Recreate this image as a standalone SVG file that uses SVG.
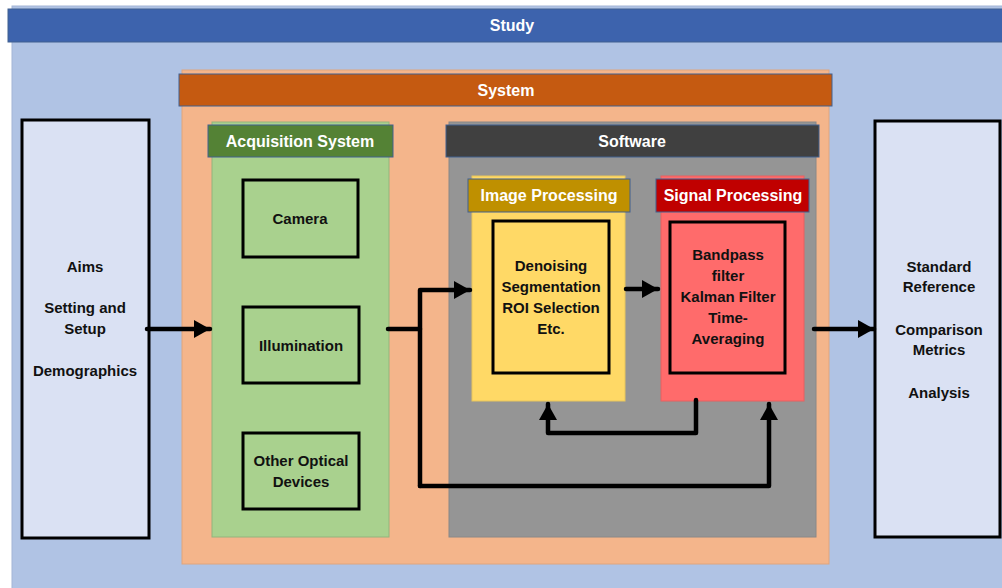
<svg xmlns="http://www.w3.org/2000/svg" width="1002" height="588" viewBox="0 0 1002 588">
  <style>
    text { font-family: "Liberation Sans", Arial, sans-serif; font-weight: bold; text-anchor: middle; }
    .hdr { fill: #ffffff; font-size: 16px; }
    .body { fill: #111111; font-size: 15px; }
    .hbar { stroke: #41618f; stroke-width: 1; }
    .box { stroke: #000000; stroke-width: 3; }
    .wire { fill: none; stroke: #000000; stroke-width: 4.5; stroke-linecap: round; stroke-linejoin: round; }
  </style>
  <defs>
    <marker id="arrow" markerUnits="userSpaceOnUse" markerWidth="18" markerHeight="18" refX="16" refY="9" orient="auto">
      <path d="M0,0 L16,9 L0,18 Z" fill="#000000"/>
    </marker>
  </defs>

  <!-- study background -->
  <g id="study">
    <rect x="12" y="6" width="992" height="584" fill="#b0c3e4" stroke="#a4b6d6" stroke-width="1"/>
    <rect x="8" y="9" width="996" height="33" fill="#3d63ad" class="hbar"/>
    <text class="hdr" x="512" y="31">Study</text>
  </g>

  <!-- system container -->
  <g id="system">
    <rect x="182" y="70" width="647" height="494" fill="#f4b58b" stroke="#e0a57d" stroke-width="1"/>
    <rect x="179" y="74" width="653" height="32" fill="#c55a11" class="hbar"/>
    <text class="hdr" x="506" y="96">System</text>
  </g>

  <!-- acquisition panel -->
  <g id="acquisition">
    <rect x="212" y="122" width="177" height="415" fill="#a9d18e" stroke="#93b47d" stroke-width="1"/>
    <rect x="208" y="125" width="185" height="32" fill="#548235" class="hbar"/>
    <text class="hdr" x="300" y="147">Acquisition System</text>
  </g>

  <g id="camera">
    <rect x="243" y="180" width="115" height="77" fill="#a9d18e" class="box"/>
    <text class="body" x="300" y="224">Camera</text>
  </g>

  <g id="illumination">
    <rect x="243" y="307" width="116" height="76" fill="#a9d18e" class="box"/>
    <text class="body" x="301" y="351">Illumination</text>
  </g>

  <g id="optical">
    <rect x="243" y="433" width="116" height="76" fill="#a9d18e" class="box"/>
    <text class="body" x="301" y="466">Other Optical</text>
    <text class="body" x="301" y="487">Devices</text>
  </g>

  <!-- software panel -->
  <g id="software">
    <rect x="449" y="122" width="367" height="415" fill="#959595" stroke="#888888" stroke-width="1"/>
    <rect x="446" y="125" width="373" height="32" fill="#404040" class="hbar"/>
    <text class="hdr" x="632" y="147">Software</text>
  </g>

  <g id="image-processing">
    <rect x="472" y="176" width="153" height="225" fill="#ffd966" stroke="#e8c55c" stroke-width="1"/>
    <rect x="468" y="179" width="162" height="33" fill="#bf9000" class="hbar"/>
    <text class="hdr" x="549" y="201">Image Processing</text>
    <rect x="493" y="221" width="116" height="152" fill="#ffd966" class="box"/>
    <text class="body" x="551" y="271">Denoising</text>
    <text class="body" x="551" y="292">Segmentation</text>
    <text class="body" x="551" y="313">ROI Selection</text>
    <text class="body" x="551" y="334">Etc.</text>
  </g>

  <g id="signal-processing">
    <rect x="661" y="176" width="143" height="225" fill="#ff6b6b" stroke="#e86060" stroke-width="1"/>
    <rect x="656" y="179" width="153" height="33" fill="#c00000" class="hbar"/>
    <text class="hdr" x="733" y="201">Signal Processing</text>
    <rect x="670" y="222" width="115" height="151" fill="#ff6b6b" class="box"/>
    <text class="body" x="728" y="260">Bandpass</text>
    <text class="body" x="728" y="281">filter</text>
    <text class="body" x="728" y="302">Kalman Filter</text>
    <text class="body" x="728" y="323">Time-</text>
    <text class="body" x="728" y="344">Averaging</text>
  </g>

  <!-- inputs and outputs -->
  <g id="inputs">
    <rect x="22" y="120" width="127" height="418" fill="#dae1f3" class="box"/>
    <text class="body" x="85" y="272">Aims</text>
    <text class="body" x="85" y="313">Setting and</text>
    <text class="body" x="85" y="334">Setup</text>
    <text class="body" x="85" y="376">Demographics</text>
  </g>

  <g id="outputs">
    <rect x="875" y="121" width="125" height="416" fill="#dae1f3" class="box"/>
    <text class="body" x="939" y="272">Standard</text>
    <text class="body" x="939" y="292">Reference</text>
    <text class="body" x="939" y="335">Comparison</text>
    <text class="body" x="939" y="355">Metrics</text>
    <text class="body" x="939" y="398">Analysis</text>
  </g>

  <!-- connectors -->
  <g id="connectors">
    <path class="wire" d="M147,329 L210,329" marker-end="url(#arrow)"/>
    <path class="wire" d="M388,329 L420,329"/>
    <path class="wire" d="M420,486 L420,290 L470,290" marker-end="url(#arrow)"/>
    <path class="wire" d="M420,486 L769,486 L769,404" marker-end="url(#arrow)"/>
    <path class="wire" d="M626,289 L658,289" marker-end="url(#arrow)"/>
    <path class="wire" d="M696,400 L696,433 L548,433 L548,404" marker-end="url(#arrow)"/>
    <path class="wire" d="M814,329 L874,329" marker-end="url(#arrow)"/>
  </g>
</svg>
